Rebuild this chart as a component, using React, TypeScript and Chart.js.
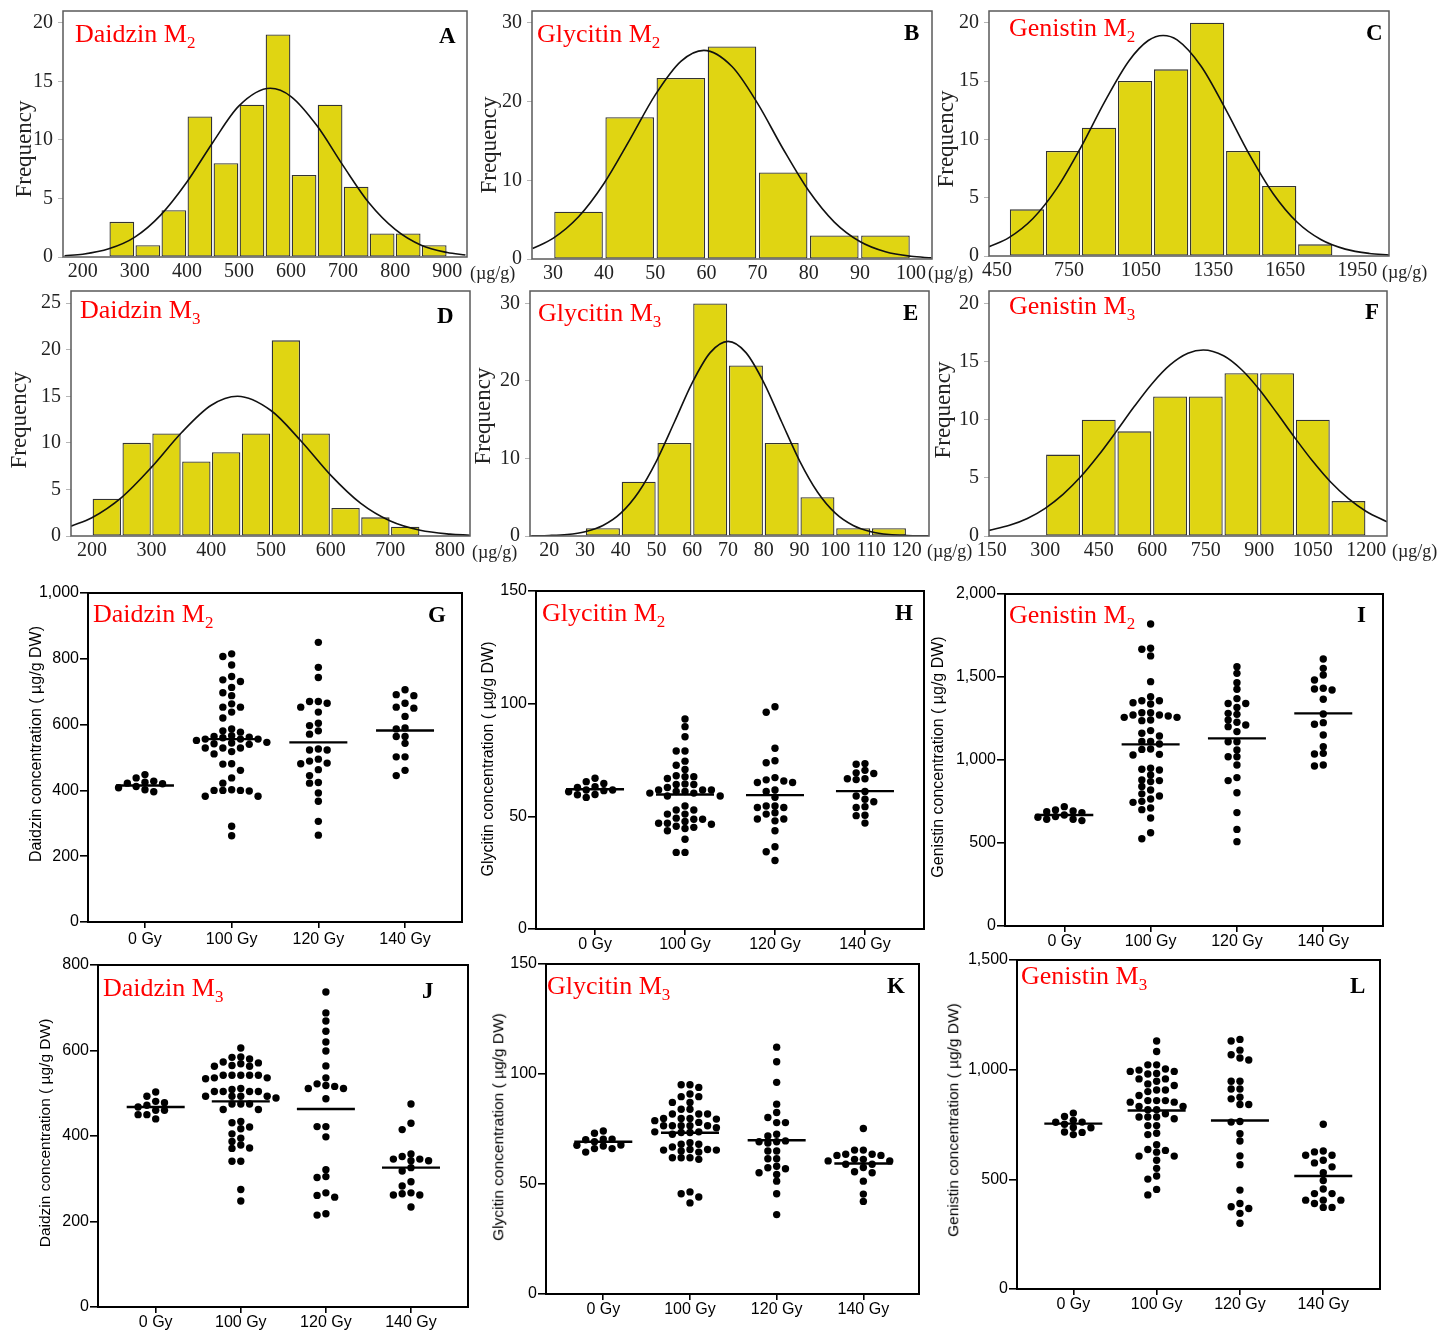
import React, { useEffect, useRef } from 'react';
import { Chart, registerables } from 'chart.js';

Chart.register(...registerables);

const SERIF = "'Liberation Serif', 'Times New Roman', Times, serif";
const SANS = "'Liberation Sans', Arial, Helvetica, sans-serif";
const BAR_FILL = '#e0d512';

// ---------------- Histogram data (frequency of 91 mutant lines) ----------------
const daidzinM2BinCenters = [275, 325, 375, 425, 475, 525, 575, 625, 675, 725, 775, 825, 875];
const daidzinM2Counts = [3, 1, 4, 12, 8, 13, 19, 7, 13, 6, 2, 2, 1];
const daidzinM2CurveX = [165, 200, 250, 300, 350, 400, 450, 500, 560, 600, 650, 700, 750, 800, 850, 900, 935];
const daidzinM2CurveY = [0.11, 0.24, 0.7, 1.7, 3.6, 6.4, 9.8, 12.9, 14.4, 13.7, 11.2, 7.8, 4.6, 2.35, 1.0, 0.38, 0.17];
const daidzinM2XTicks = [200, 300, 400, 500, 600, 700, 800, 900];

const glycitinM2BinCenters = [35, 45, 55, 65, 75, 85, 95];
const glycitinM2Counts = [6, 18, 23, 27, 11, 3, 3];
const glycitinM2CurveX = [26, 30, 35, 40, 45, 50, 55, 59.5, 65, 70, 75, 80, 85, 90, 95, 100, 104];
const glycitinM2CurveY = [1.33, 2.61, 5.36, 9.62, 15.13, 20.84, 25.1, 26.5, 24.45, 19.76, 13.97, 8.66, 4.69, 2.22, 0.92, 0.34, 0.14];
const glycitinM2XTicks = [30, 40, 50, 60, 70, 80, 90, 100];

const genistinM2BinCenters = [575, 725, 875, 1025, 1175, 1325, 1475, 1625, 1775];
const genistinM2Counts = [4, 9, 11, 15, 16, 20, 9, 6, 1];
const genistinM2CurveX = [417, 500, 600, 700, 800, 900, 1000, 1080, 1142, 1200, 1300, 1400, 1500, 1600, 1700, 1800, 1900, 2000, 2082];
const genistinM2CurveY = [0.8, 1.58, 3.22, 5.82, 9.34, 13.28, 16.74, 18.47, 18.9, 18.52, 16.26, 12.65, 8.73, 5.34, 2.89, 1.39, 0.59, 0.22, 0.09];
const genistinM2XTicks = [450, 750, 1050, 1350, 1650, 1950];

const daidzinM3BinCenters = [225, 275, 325, 375, 425, 475, 525, 575, 625, 675, 725];
const daidzinM3Counts = [4, 10, 11, 8, 9, 11, 21, 11, 3, 2, 1];
const daidzinM3CurveX = [165, 200, 250, 300, 350, 400, 444, 500, 550, 600, 650, 700, 750, 800, 833];
const daidzinM3CurveY = [1.05, 1.96, 4.15, 7.39, 11.09, 14.04, 15.0, 13.47, 10.22, 6.53, 3.52, 1.6, 0.61, 0.2, 0.085];
const daidzinM3XTicks = [200, 300, 400, 500, 600, 700, 800];

const glycitinM3BinCenters = [35, 45, 55, 65, 75, 85, 95, 105, 115];
const glycitinM3Counts = [1, 7, 12, 30, 22, 12, 5, 1, 1];
const glycitinM3CurveX = [15, 20, 25, 30, 35, 40, 45, 50, 55, 60, 65, 70, 75, 80, 85, 90, 95, 100, 105, 110, 115, 120, 126];
const glycitinM3CurveY = [0.02, 0.066, 0.2, 0.56, 1.36, 2.95, 5.68, 9.7, 14.7, 19.79, 23.65, 25.1, 23.65, 19.79, 14.7, 9.7, 5.68, 2.95, 1.36, 0.56, 0.2, 0.066, 0.015];
const glycitinM3XTicks = [20, 30, 40, 50, 60, 70, 80, 90, 100, 110, 120];

const genistinM3BinCenters = [350, 450, 550, 650, 750, 850, 950, 1050, 1150];
const genistinM3Counts = [7, 10, 9, 12, 12, 14, 14, 10, 3];
const genistinM3CurveX = [142.5, 200, 250, 300, 350, 400, 450, 500, 550, 600, 650, 700, 743, 800, 850, 900, 950, 1000, 1050, 1100, 1150, 1200, 1258];
const genistinM3CurveY = [0.48, 0.92, 1.51, 2.38, 3.58, 5.11, 6.96, 9.02, 11.15, 13.12, 14.71, 15.71, 16, 15.5, 14.32, 12.6, 10.55, 8.43, 6.42, 4.64, 3.21, 2.11, 1.22];
const genistinM3XTicks = [150, 300, 450, 600, 750, 900, 1050, 1200];

const freqTicks20 = [0, 5, 10, 15, 20];
const freqTicks25 = [0, 5, 10, 15, 20, 25];
const freqTicks30 = [0, 10, 20, 30];

// ---------------- Dot plot data (µg/g DW) ----------------
const doseLabels = ['0 Gy', '100 Gy', '120 Gy', '140 Gy'];

const daidzinM2_0 = [448, 438, 428, 425, 422, 420, 412, 408, 402, 396];
const daidzinM2_100 = [815, 807, 781, 746, 736, 731, 713, 697, 688, 663, 653, 653, 638, 620, 587, 581, 577, 566, 564, 562, 560, 556, 556, 556, 552, 546, 544, 542, 540, 529, 529, 529, 518, 511, 481, 480, 461, 438, 422, 402, 400, 400, 400, 398, 382, 382, 291, 262];
const daidzinM2_120 = [850, 774, 743, 670, 670, 665, 653, 638, 604, 597, 581, 571, 526, 523, 523, 495, 489, 483, 481, 463, 445, 424, 422, 392, 367, 306, 264];
const daidzinM2_140 = [706, 691, 688, 665, 653, 650, 625, 590, 587, 564, 564, 543, 502, 502, 461, 445];
const daidzinM2Means = [415, 556, 546, 582];

const glycitinM2_0 = [66.9, 65.4, 64.6, 63.1, 62.8, 61.7, 61.7, 61.4, 60.9, 59.7, 59.6, 58.4];
const glycitinM2_100 = [93.2, 89.8, 85.3, 79, 79, 74.5, 72.7, 70.8, 68.0, 67.6, 67.6, 66.8, 64.4, 64.1, 64.1, 62.8, 61.7, 61.7, 61.7, 61.0, 61.0, 60.3, 60.3, 59.0, 59.0, 54.6, 52.8, 52.8, 51.0, 51.0, 49.2, 48.7, 48.7, 47.7, 46.9, 46.9, 46.5, 45.6, 45.1, 44.6, 43.6, 39.8, 34.0, 34.0];
const glycitinM2_120 = [98.6, 96.2, 80.2, 74.7, 73.8, 67.2, 66.2, 65.7, 65.0, 65.0, 61.7, 61.0, 58.5, 54.6, 54.6, 53.9, 53.9, 51.6, 51.0, 48.8, 48.8, 48.0, 43.6, 36.5, 34.3, 30.4];
const glycitinM2_140 = [73.4, 73.1, 70.4, 69.3, 69.0, 66.7, 66.7, 66.3, 61.0, 59.0, 57.6, 56.5, 54.3, 53.9, 50.5, 50.3, 47.0];
const glycitinM2Means = [62, 59.7, 59.4, 61.2];

const genistinM2_0 = [719, 699, 693, 689, 683, 669, 659, 655, 643, 643, 635];
const genistinM2_100 = [1819, 1673, 1667, 1627, 1472, 1381, 1357, 1357, 1345, 1337, 1285, 1285, 1271, 1271, 1265, 1257, 1257, 1241, 1237, 1177, 1161, 1145, 1111, 1111, 1096, 1066, 1064, 1034, 1030, 950, 944, 940, 910, 880, 876, 870, 840, 819, 796, 783, 765, 751, 745, 711, 701, 651, 562, 526];
const genistinM2_120 = [1562, 1522, 1466, 1426, 1370, 1340, 1340, 1317, 1281, 1275, 1241, 1227, 1211, 1201, 1171, 1110, 1110, 1060, 1020, 1020, 970, 894, 876, 803, 683, 582, 508];
const genistinM2_140 = [1608, 1552, 1512, 1482, 1432, 1428, 1422, 1366, 1277, 1225, 1215, 1151, 1080, 1040, 1036, 970, 964];
const genistinM2Means = [669, 1094, 1130, 1281];

const daidzinM3_0 = [503, 493, 481, 478, 472, 468, 460, 460, 450, 450, 440];
const daidzinM3_100 = [606, 585, 584, 580, 573, 571, 569, 565, 563, 563, 542, 542, 542, 542, 542, 536, 536, 534, 511, 509, 504, 504, 504, 504, 493, 493, 493, 493, 489, 475, 475, 475, 462, 462, 434, 431, 421, 417, 405, 395, 387, 379, 372, 371, 341, 341, 275, 248];
const daidzinM3_120 = [737, 688, 669, 645, 620, 599, 564, 536, 522, 518, 516, 511, 511, 487, 422, 422, 398, 321, 305, 303, 267, 261, 257, 218, 215];
const daidzinM3_140 = [475, 430, 415, 358, 352, 346, 346, 342, 342, 326, 318, 293, 283, 267, 265, 262, 262, 234];
const daidzinM3Means = [468, 481, 463, 326];

const glycitinM3_0 = [74.1, 73.1, 70.4, 70.4, 70.1, 69.2, 67.7, 67.6, 67.3, 66.1, 66.1, 64.5];
const glycitinM3_100 = [95.1, 95.1, 93.9, 90.9, 89.7, 89.7, 87.1, 87.1, 84.0, 84.0, 81.8, 81.8, 81.8, 79.8, 79.8, 79.8, 79.5, 78.8, 78.0, 76.5, 76.5, 76.5, 76.5, 76.5, 75.6, 73.7, 73.7, 73.4, 73.4, 72.6, 68.8, 68.1, 68.1, 66.8, 65.7, 65.7, 65.4, 65.4, 65.0, 64.5, 61.9, 61.9, 61.9, 61.2, 46.4, 45.6, 44.1, 41.4];
const glycitinM3_120 = [112.2, 105.6, 96.2, 86.3, 82.5, 80.2, 77.9, 77.9, 72.6, 71.8, 69.6, 69.2, 69.2, 68.6, 65.0, 65.0, 61.5, 61.5, 58.1, 57.4, 56.9, 55.1, 54.3, 51.3, 45.6, 36.1];
const glycitinM3_140 = [75.2, 65.4, 65.4, 63.5, 63.5, 63.0, 63.0, 61.2, 61.2, 60.5, 60.5, 59.0, 59.0, 57.5, 55.6, 55.1, 51.3, 45.4, 42.1];
const glycitinM3Means = [69.2, 73.3, 69.9, 59.3];

const genistinM3_0 = [802, 787, 769, 761, 760, 751, 736, 735, 716, 714, 704];
const genistinM3_100 = [1131, 1083, 1022, 1022, 1003, 998, 992, 992, 983, 980, 958, 958, 947, 935, 928, 907, 907, 900, 882, 859, 859, 859, 852, 852, 832, 832, 817, 817, 799, 784, 784, 784, 776, 745, 745, 710, 704, 658, 636, 632, 624, 606, 606, 587, 550, 515, 501, 454, 429];
const genistinM3_120 = [1138, 1131, 1089, 1068, 1053, 1044, 947, 947, 912, 912, 874, 867, 841, 841, 764, 761, 708, 675, 607, 567, 451, 390, 375, 367, 345, 300];
const genistinM3_140 = [751, 629, 625, 610, 610, 587, 575, 557, 530, 495, 456, 435, 435, 405, 405, 405, 390, 372, 372];
const genistinM3Means = [754, 814, 768, 515];

const daidzinM2YTicks = [0, 200, 400, 600, 800, 1000];
const daidzinM2YLabels = ['0', '200', '400', '600', '800', '1,000'];
const glycitinYTicks = [0, 50, 100, 150];
const glycitinYLabels = ['0', '50', '100', '150'];
const genistinM2YTicks = [0, 500, 1000, 1500, 2000];
const genistinM2YLabels = ['0', '500', '1,000', '1,500', '2,000'];
const daidzinM3YTicks = [0, 200, 400, 600, 800];
const daidzinM3YLabels = ['0', '200', '400', '600', '800'];
const genistinM3YTicks = [0, 500, 1000, 1500];
const genistinM3YLabels = ['0', '500', '1,000', '1,500'];

// ---------------- helpers ----------------
type Frame = { l: number; t: number; r: number; b: number };

const framePlugin = {
  id: 'panelFrame',
  afterDatasetsDraw(chart: any, _args: any, opts: any) {
    const { ctx, chartArea: a } = chart;
    ctx.save();
    ctx.strokeStyle = opts.color || '#000';
    ctx.lineWidth = opts.width || 1;
    ctx.strokeRect(a.left, a.top, a.right - a.left, a.bottom - a.top);
    ctx.restore();
  },
};

const H_YW = 62, H_XH = 40, H_PT = 6, H_PR = 30;

function Histogram(p: {
  frame: Frame; xMin: number; xMax: number; yMax: number; xTicks: number[]; yTicks: number[];
  centers: number[]; counts: number[]; curveX: number[]; curveY: number[];
}) {
  const ref = useRef<HTMLCanvasElement>(null);
  const w = Math.round(p.frame.r - p.frame.l + H_YW + H_PR);
  const h = Math.round(p.frame.b - p.frame.t + H_PT + H_XH);
  useEffect(() => {
    const chart = new Chart(ref.current as HTMLCanvasElement, {
      type: 'bar',
      data: {
        datasets: [
          {
            type: 'line',
            data: p.curveX.map((x, i) => ({ x, y: p.curveY[i] })),
            borderColor: '#111',
            borderWidth: 1.6,
            pointRadius: 0,
            cubicInterpolationMode: 'monotone',
            fill: false,
            order: 0,
          } as any,
          {
            type: 'bar',
            data: p.centers.map((x, i) => ({ x, y: p.counts[i] })),
            backgroundColor: BAR_FILL,
            borderColor: '#333',
            borderWidth: 1.3,
            borderSkipped: false,
            barPercentage: 0.95,
            categoryPercentage: 1,
            grouped: false,
            order: 1,
          } as any,
        ],
      },
      options: {
        animation: false,
        responsive: false,
        events: [],
        layout: { padding: { top: H_PT, right: H_PR, left: 0, bottom: 0 } },
        plugins: {
          legend: { display: false },
          tooltip: { enabled: false },
          panelFrame: { color: '#5a5a5a', width: 1.5 },
        } as any,
        scales: {
          x: {
            type: 'linear',
            min: p.xMin,
            max: p.xMax,
            offset: false,
            grid: { display: false, drawTicks: false, offset: false },
            border: { display: false },
            ticks: {
              autoSkip: false,
              maxRotation: 0,
              minRotation: 0,
              padding: 3,
              color: '#222',
              font: { family: SERIF, size: 20 },
              callback: (v: any) => String(v),
            },
            afterBuildTicks: (s: any) => { s.ticks = p.xTicks.map((v) => ({ value: v })); },
            afterFit: (s: any) => { s.height = H_XH; s.paddingLeft = 0; s.paddingRight = 0; },
          },
          y: {
            min: 0,
            max: p.yMax,
            grid: { drawOnChartArea: false, drawTicks: true, tickLength: 5, color: '#b5b5b5' },
            border: { display: false },
            ticks: {
              autoSkip: false,
              padding: 5,
              color: '#222',
              font: { family: SERIF, size: 20 },
              callback: (v: any) => String(v),
            },
            afterBuildTicks: (s: any) => { s.ticks = p.yTicks.map((v) => ({ value: v })); },
            afterFit: (s: any) => { s.width = H_YW; s.paddingTop = 0; s.paddingBottom = 0; },
          },
        } as any,
      },
      plugins: [framePlugin],
    });
    return () => chart.destroy();
  }, []);
  return (
    <canvas
      ref={ref}
      width={w}
      height={h}
      style={{ position: 'absolute', left: p.frame.l - H_YW, top: p.frame.t - H_PT, width: w, height: h }}
    />
  );
}

// Beeswarm layout: spreads points with nearly equal values sideways on a column grid.
function swarmOffsets(values: number[], pxPerUnit: number, colPx: number, minGap: number): number[] {
  const order = values.map((_, i) => i).sort((a, b) => values[b] - values[a]);
  const placed: { c: number; y: number }[] = [];
  const out = new Array(values.length).fill(0);
  for (const i of order) {
    const y = values[i] * pxPerUnit;
    for (let k = 0; k < 60; k++) {
      const c = k === 0 ? 0 : k % 2 ? -(k + 1) / 2 : k / 2;
      if (!placed.some((q) => q.c === c && Math.abs(q.y - y) < minGap)) {
        placed.push({ c, y });
        out[i] = c * colPx;
        break;
      }
    }
  }
  return out;
}

const D_YW = 72, D_XH = 32, D_PT = 8, D_PR = 10;
const DOT_R = 3.7;
const MEAN_HALF_PX = 29;

function DotPlot(p: {
  frame: Frame; xMin: number; xMax: number; yMax: number; yTicks: number[]; yLabels: string[];
  groups: number[][]; means: number[]; labelPad?: number;
}) {
  const ref = useRef<HTMLCanvasElement>(null);
  const w = Math.round(p.frame.r - p.frame.l + D_YW + D_PR);
  const h = Math.round(p.frame.b - p.frame.t + D_PT + D_XH);
  useEffect(() => {
    const pxPerY = (p.frame.b - p.frame.t) / p.yMax;
    const pxPerX = (p.frame.r - p.frame.l) / (p.xMax - p.xMin);
    const dotSets = p.groups.map((vals) => vals).map((vals, gi) => {
      const offs = swarmOffsets(vals, pxPerY, 8.8, 6.6);
      return {
        type: 'scatter',
        data: vals.map((v, i) => ({ x: gi + 1 + offs[i] / pxPerX, y: v })),
        pointRadius: DOT_R,
        pointBackgroundColor: '#000',
        pointBorderWidth: 0,
        order: 1,
      } as any;
    });
    const meanSets = p.means.map((m, gi) => ({
      type: 'scatter',
      showLine: true,
      data: [
        { x: gi + 1 - MEAN_HALF_PX / pxPerX, y: m },
        { x: gi + 1 + MEAN_HALF_PX / pxPerX, y: m },
      ],
      borderColor: '#000',
      borderWidth: 2.4,
      pointRadius: 0,
      order: 0,
    } as any));
    const chart = new Chart(ref.current as HTMLCanvasElement, {
      type: 'scatter',
      data: { datasets: [...dotSets, ...meanSets] },
      options: {
        animation: false,
        responsive: false,
        events: [],
        layout: { padding: { top: D_PT, right: D_PR, left: 0, bottom: 0 } },
        plugins: {
          legend: { display: false },
          tooltip: { enabled: false },
          panelFrame: { color: '#000', width: 2 },
        } as any,
        scales: {
          x: {
            type: 'linear',
            min: p.xMin,
            max: p.xMax,
            grid: { drawOnChartArea: false, drawTicks: true, tickLength: 6, color: '#000', lineWidth: 1.6 },
            border: { display: false },
            ticks: {
              autoSkip: false,
              maxRotation: 0,
              minRotation: 0,
              padding: p.labelPad ?? 0,
              color: '#000',
              font: { family: SANS, size: 16 },
              callback: (_v: any, i: number) => doseLabels[i],
            },
            afterBuildTicks: (s: any) => { s.ticks = doseLabels.map((_, i) => ({ value: i + 1 })); },
            afterFit: (s: any) => { s.height = D_XH; s.paddingLeft = 0; s.paddingRight = 0; },
          },
          y: {
            min: 0,
            max: p.yMax,
            grid: { drawOnChartArea: false, drawTicks: true, tickLength: 8, color: '#000', lineWidth: 1.6 },
            border: { display: false },
            ticks: {
              autoSkip: false,
              padding: 1,
              color: '#000',
              font: { family: SANS, size: 16 },
              callback: (_v: any, i: number) => p.yLabels[i],
            },
            afterBuildTicks: (s: any) => { s.ticks = p.yTicks.map((v) => ({ value: v })); },
            afterFit: (s: any) => { s.width = D_YW; s.paddingTop = 0; s.paddingBottom = 0; },
          },
        } as any,
      },
      plugins: [framePlugin],
    });
    return () => chart.destroy();
  }, []);
  return (
    <canvas
      ref={ref}
      width={w}
      height={h}
      style={{ position: 'absolute', left: p.frame.l - D_YW, top: p.frame.t - D_PT, width: w, height: h }}
    />
  );
}

function PanelTitle({ x, capTop, main, sub }: { x: number; capTop: number; main: string; sub: string }) {
  const fs = 26;
  return (
    <div style={{ position: 'absolute', left: x, top: capTop - 0.175 * fs, fontFamily: SERIF, fontSize: fs, lineHeight: 1, color: '#ff0000', whiteSpace: 'nowrap' }}>
      {main}
      <span style={{ fontSize: 17, position: 'relative', top: 6 }}>{sub}</span>
    </div>
  );
}

function PanelLetter({ x, capTop, text }: { x: number; capTop: number; text: string }) {
  const fs = 23;
  return (
    <div style={{ position: 'absolute', left: x, top: capTop - 0.175 * fs, fontFamily: SERIF, fontWeight: 'bold', fontSize: fs, lineHeight: 1, color: '#000', whiteSpace: 'nowrap' }}>
      {text}
    </div>
  );
}

function VText({ cx, cy, text, size, family, color }: { cx: number; cy: number; text: string; size: number; family: string; color?: string }) {
  return (
    <div style={{ position: 'absolute', left: cx, top: cy, transform: 'translate(-50%, -50%) rotate(-90deg)', fontFamily: family, fontSize: size, lineHeight: 1, color: color || '#000', whiteSpace: 'nowrap' }}>
      {text}
    </div>
  );
}

function UnitText({ x, cy }: { x: number; cy: number }) {
  const fs = 18;
  return (
    <div style={{ position: 'absolute', left: x, top: cy - fs / 2, fontFamily: SERIF, fontSize: fs, lineHeight: 1, color: '#222', whiteSpace: 'nowrap' }}>
      (µg/g)
    </div>
  );
}

export default function App() {
  return (
    <div style={{ position: 'absolute', left: 0, top: 0, width: 1453, height: 1331, background: '#fff', overflow: 'hidden' }}>
      <Histogram frame={{ l: 63, t: 11, r: 467, b: 257 }} xMin={162} xMax={938} yMax={21} xTicks={daidzinM2XTicks} yTicks={freqTicks20}
        centers={daidzinM2BinCenters} counts={daidzinM2Counts} curveX={daidzinM2CurveX} curveY={daidzinM2CurveY} />
      <Histogram frame={{ l: 532, t: 11, r: 932, b: 259 }} xMin={25.9} xMax={104.1} yMax={31.5} xTicks={glycitinM2XTicks} yTicks={freqTicks30}
        centers={glycitinM2BinCenters} counts={glycitinM2Counts} curveX={glycitinM2CurveX} curveY={glycitinM2CurveY} />
      <Histogram frame={{ l: 989, t: 11, r: 1389, b: 256 }} xMin={417} xMax={2082} yMax={21} xTicks={genistinM2XTicks} yTicks={freqTicks20}
        centers={genistinM2BinCenters} counts={genistinM2Counts} curveX={genistinM2CurveX} curveY={genistinM2CurveY} />
      <Histogram frame={{ l: 71, t: 291, r: 470, b: 536 }} xMin={165} xMax={833.5} yMax={26.3} xTicks={daidzinM3XTicks} yTicks={freqTicks25}
        centers={daidzinM3BinCenters} counts={daidzinM3Counts} curveX={daidzinM3CurveX} curveY={daidzinM3CurveY} />
      <Histogram frame={{ l: 530, t: 291, r: 929, b: 536 }} xMin={14.6} xMax={126.2} yMax={31.6} xTicks={glycitinM3XTicks} yTicks={freqTicks30}
        centers={glycitinM3BinCenters} counts={glycitinM3Counts} curveX={glycitinM3CurveX} curveY={glycitinM3CurveY} />
      <Histogram frame={{ l: 989, t: 291, r: 1387, b: 536 }} xMin={142.5} xMax={1258} yMax={21.07} xTicks={genistinM3XTicks} yTicks={freqTicks20}
        centers={genistinM3BinCenters} counts={genistinM3Counts} curveX={genistinM3CurveX} curveY={genistinM3CurveY} />

      <DotPlot frame={{ l: 88, t: 593, r: 462, b: 922 }} xMin={0.343} xMax={4.657} yMax={1000} yTicks={daidzinM2YTicks} yLabels={daidzinM2YLabels}
        groups={[daidzinM2_0, daidzinM2_100, daidzinM2_120, daidzinM2_140]} means={daidzinM2Means} labelPad={2} />
      <DotPlot frame={{ l: 536, t: 591, r: 924, b: 929 }} xMin={0.344} xMax={4.656} yMax={150} yTicks={glycitinYTicks} yLabels={glycitinYLabels}
        groups={[glycitinM2_0, glycitinM2_100, glycitinM2_120, glycitinM2_140]} means={glycitinM2Means} />
      <DotPlot frame={{ l: 1005, t: 594, r: 1383, b: 926 }} xMin={0.313} xMax={4.692} yMax={2000} yTicks={genistinM2YTicks} yLabels={genistinM2YLabels}
        groups={[genistinM2_0, genistinM2_100, genistinM2_120, genistinM2_140]} means={genistinM2Means} />
      <DotPlot frame={{ l: 98, t: 965, r: 468, b: 1307 }} xMin={0.322} xMax={4.67} yMax={800} yTicks={daidzinM3YTicks} yLabels={daidzinM3YLabels}
        groups={[daidzinM3_0, daidzinM3_100, daidzinM3_120, daidzinM3_140]} means={daidzinM3Means} />
      <DotPlot frame={{ l: 546, t: 964, r: 919, b: 1294 }} xMin={0.339} xMax={4.642} yMax={150} yTicks={glycitinYTicks} yLabels={glycitinYLabels}
        groups={[glycitinM3_0, glycitinM3_100, glycitinM3_120, glycitinM3_140]} means={glycitinM3Means} />
      <DotPlot frame={{ l: 1017, t: 960, r: 1380, b: 1289 }} xMin={0.324} xMax={4.681} yMax={1500} yTicks={genistinM3YTicks} yLabels={genistinM3YLabels}
        groups={[genistinM3_0, genistinM3_100, genistinM3_120, genistinM3_140]} means={genistinM3Means} />

      <VText cx={23} cy={149} text="Frequency" size={23} family={SERIF} color="#222" />
      <VText cx={488} cy={145} text="Frequency" size={23} family={SERIF} color="#222" />
      <VText cx={945} cy={139} text="Frequency" size={23} family={SERIF} color="#222" />
      <VText cx={18} cy={420} text="Frequency" size={23} family={SERIF} color="#222" />
      <VText cx={482} cy={416} text="Frequency" size={23} family={SERIF} color="#222" />
      <VText cx={942} cy={410} text="Frequency" size={23} family={SERIF} color="#222" />

      <VText cx={36} cy={744} text="Daidzin concentration ( µg/g DW)" size={16} family={SANS} />
      <VText cx={488} cy={759} text="Glycitin concentration ( µg/g DW)" size={16} family={SANS} />
      <VText cx={938} cy={757} text="Genistin concentration ( µg/g DW)" size={16} family={SANS} />
      <VText cx={45} cy={1133} text="Daidzin concentration ( µg/g DW)" size={15.5} family={SANS} />
      <VText cx={498} cy={1127} text="Glycitin concentration ( µg/g DW)" size={15.5} family={SANS} />
      <VText cx={953} cy={1120} text="Genistin concentration ( µg/g DW)" size={15.5} family={SANS} />

      <UnitText x={470} cy={273} />
      <UnitText x={928} cy={273} />
      <UnitText x={1382} cy={272} />
      <UnitText x={472} cy={552} />
      <UnitText x={927} cy={551} />
      <UnitText x={1392} cy={551} />

      <PanelTitle x={75} capTop={26} main="Daidzin M" sub="2" />
      <PanelTitle x={537} capTop={26} main="Glycitin M" sub="2" />
      <PanelTitle x={1009} capTop={20} main="Genistin M" sub="2" />
      <PanelTitle x={80} capTop={302} main="Daidzin M" sub="3" />
      <PanelTitle x={538} capTop={305} main="Glycitin M" sub="3" />
      <PanelTitle x={1009} capTop={298} main="Genistin M" sub="3" />
      <PanelTitle x={93} capTop={606} main="Daidzin M" sub="2" />
      <PanelTitle x={542} capTop={605} main="Glycitin M" sub="2" />
      <PanelTitle x={1009} capTop={607} main="Genistin M" sub="2" />
      <PanelTitle x={103} capTop={980} main="Daidzin M" sub="3" />
      <PanelTitle x={547} capTop={978} main="Glycitin M" sub="3" />
      <PanelTitle x={1021} capTop={968} main="Genistin M" sub="3" />

      <PanelLetter x={439} capTop={28} text="A" />
      <PanelLetter x={904} capTop={25} text="B" />
      <PanelLetter x={1366} capTop={25} text="C" />
      <PanelLetter x={437} capTop={308} text="D" />
      <PanelLetter x={903} capTop={305} text="E" />
      <PanelLetter x={1365} capTop={304} text="F" />
      <PanelLetter x={428} capTop={607} text="G" />
      <PanelLetter x={895} capTop={605} text="H" />
      <PanelLetter x={1357} capTop={607} text="I" />
      <PanelLetter x={422} capTop={983} text="J" />
      <PanelLetter x={887} capTop={978} text="K" />
      <PanelLetter x={1350} capTop={978} text="L" />
    </div>
  );
}
